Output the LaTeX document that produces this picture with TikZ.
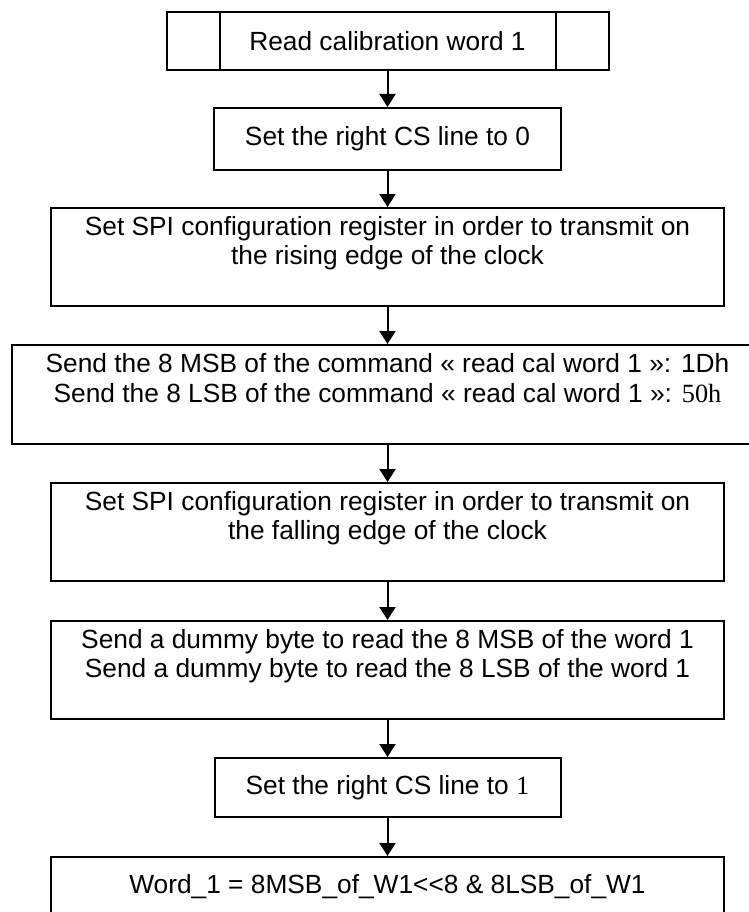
\documentclass[tikz,border=0pt]{standalone}
\usepackage{fontspec}
\setmainfont{Liberation Sans}
\newfontfamily\timesfont{Liberation Serif}
\usepackage{tikz}
\usetikzlibrary{arrows.meta}
\tikzset{
  stepbox/.style={draw, line width=2pt, inner sep=0pt, align=center,
    font=\fontsize{26.3}{29.5}\selectfont},
  flow/.style={line width=2pt, -{Triangle[length=13pt,width=16pt]}}
}

\begin{document}
\begin{tikzpicture}[x=1pt, y=-1pt]

\useasboundingbox (0,0) rectangle (748,912);

% predefined process box
\node [stepbox, minimum width=442pt, minimum height=58pt] (read) at (387.5,41) {Read calibration word 1};
\draw [line width=2pt] ([xshift=54pt]read.north west) -- ([xshift=54pt]read.south west);
\draw [line width=2pt] ([xshift=-54pt]read.north east) -- ([xshift=-54pt]read.south east);

\node [stepbox, minimum width=347pt, minimum height=62pt] (cslow) at (387.5,139) {Set the right CS line to 0};

\node [stepbox, minimum width=673pt, minimum height=98pt] (rising) at (387.5,257)
  {\rule{0pt}{24pt}Set SPI configuration register in order to transmit on\\the rising edge of the clock\\\strut};

\node [stepbox, minimum width=751pt, minimum height=99pt] (cmd) at (387.5,394.5)
  {\rule{0pt}{24pt}Send the 8 MSB of the command « read cal word 1 »: 1Dh\\Send the 8 LSB of the command « read cal word 1 »: {\timesfont 50h}\\\strut};

\node [stepbox, minimum width=673pt, minimum height=98pt] (falling) at (387.5,532)
  {\rule{0pt}{24pt}Set SPI configuration register in order to transmit on\\the falling edge of the clock\\\strut};

\node [stepbox, minimum width=673pt, minimum height=98pt] (dummy) at (387.5,670)
  {\rule{0pt}{24pt}Send a dummy byte to read the 8 MSB of the word 1\\Send a dummy byte to read the 8 LSB of the word 1\\\strut};

\node [stepbox, minimum width=346pt, minimum height=59pt] (cshigh) at (387.5,787.5) {Set the right CS line to {\timesfont 1}};

\node [stepbox, minimum width=673pt, minimum height=60pt] (word) at (387.5,887) {Word\_1 = 8MSB\_of\_W1<{}<8 \& 8LSB\_of\_W1};

% connectors
\draw [flow] (read) -- (cslow);
\draw [flow] (cslow) -- (rising);
\draw [flow] (rising) -- (cmd);
\draw [flow] (cmd) -- (falling);
\draw [flow] (falling) -- (dummy);
\draw [flow] (dummy) -- (cshigh);
\draw [flow] (cshigh) -- (word);

\end{tikzpicture}
\end{document}
